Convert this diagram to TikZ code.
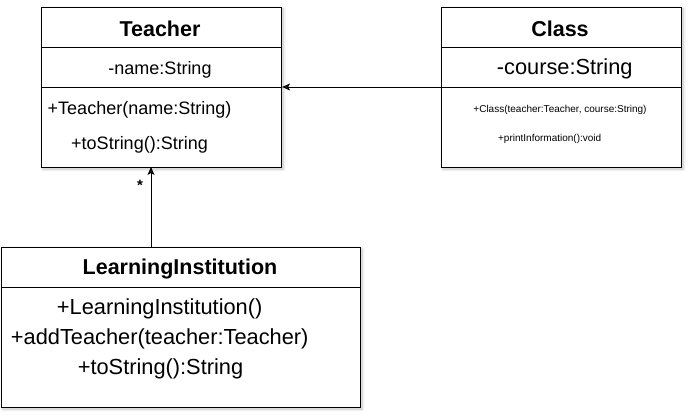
\documentclass[tikz,border=0pt]{standalone}
\usepackage{fontspec}
\setmainfont{Liberation Sans}
\usetikzlibrary{arrows.meta,shadows.blur}
\begin{document}
\begin{tikzpicture}[x=1pt,y=-1pt,
  comp/.style={draw=black,line width=1.1pt,fill=white,anchor=north west,inner sep=0pt,minimum width=240pt},
  shad/.style={blur shadow={shadow xshift=2pt,shadow yshift=-2pt,shadow blur steps=6,shadow opacity=25,shadow blur radius=3pt}},
  title/.style={font=\fontsize{21.5}{26}\selectfont\bfseries,inner sep=0pt},
  mtxt/.style={font=\fontsize{18}{22}\selectfont,inner sep=0pt},
  btxt/.style={font=\fontsize{21.8}{26}\selectfont,inner sep=0pt},
  stxt/.style={font=\fontsize{10}{12}\selectfont,inner sep=0pt},
  conn/.style={line width=0.9pt,-{Stealth[length=8pt,width=7pt,inset=2pt]}}
]
\useasboundingbox (0,0) rectangle (692,419);
% shadows
\fill[shad,white,draw=none] (41,7) rectangle (281,167);
\fill[shad,white,draw=none] (441,7) rectangle (681,167);
\fill[shad,white,draw=none] (1,247) rectangle (360,407);
% Teacher
\node[comp,minimum height=40pt] (th) at (41,7) {};
\node[comp,minimum height=40pt] (ta) at (41,47) {};
\node[comp,minimum height=80pt] (tm) at (41,87) {};
\node[title] (tt) at (160,29) {Teacher};
\node[mtxt] (t1) at (160,69.5) {-name:String};
\node[mtxt] (t2) at (139.5,109.5) {+Teacher(name:String)};
\node[mtxt] (t3) at (139.5,144.5) {+toString():String};
% Class
\node[comp,minimum height=40pt] (ch) at (441,7) {};
\node[comp,minimum height=40pt] (ca) at (441,47) {};
\node[comp,minimum height=80pt] (cm) at (441,87) {};
\node[title] (ct) at (560,29) {Class};
\node[btxt] (c1) at (564.7,69) {-course:String};
\node[stxt] (c2) at (560,109.5) {+Class(teacher:Teacher, course:String)};
\node[stxt] (c3) at (549.7,138.5) {+printInformation():void};
% LearningInstitution
\node[comp,minimum width=359pt,minimum height=40pt] (lh) at (1,247) {};
\node[comp,minimum width=359pt,minimum height=120pt] (lm) at (1,287) {};
\node[title] (lt) at (180,268.5) {LearningInstitution};
\node[btxt] (l1) at (159.7,308.5) {+LearningInstitution()};
\node[btxt] (l2) at (159.7,338.5) {+addTeacher(teacher:Teacher)};
\node[btxt] (l3) at (160.5,368.5) {+toString():String};
% connectors
\draw[conn] (cm.north west) -- (tm.north east);
\coordinate (ltop) at (151,247);
\coordinate (tbot) at (151,167);
\draw[conn] (ltop) -- (tbot);
\node[font=\fontsize{15}{18}\selectfont\bfseries,inner sep=0pt] (star) at (140,185) {*};
\end{tikzpicture}
\end{document}
